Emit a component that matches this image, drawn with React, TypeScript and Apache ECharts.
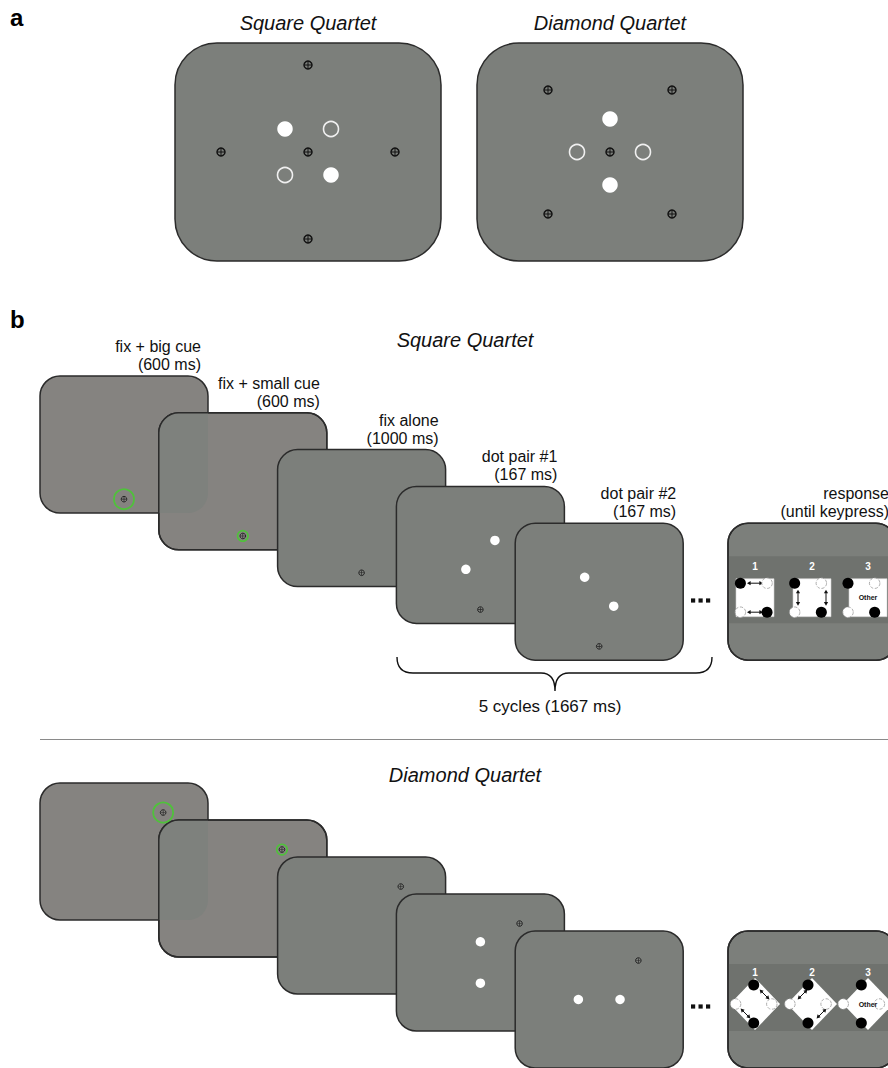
import React, { useEffect, useRef } from "react";
import * as echarts from "echarts";

const FONT = '"Liberation Sans", Arial, Helvetica, sans-serif';

// ---------------- data ----------------
const panelLetters = ["a", "b"];
const quartetTitles = ["Square Quartet", "Diamond Quartet"];
const stageLabels = ["fix + big cue", "fix + small cue", "fix alone", "dot pair #1", "dot pair #2", "response"];
const stageDurations = ["(600 ms)", "(600 ms)", "(1000 ms)", "(167 ms)", "(167 ms)", "(until keypress)"];
const cycleLabel = "5 cycles (1667 ms)";
const responseNumbers = ["1", "2", "3"];
const otherLabel = "Other";

// stimulus coordinates (display units, centre = 0, y up)
const squareFilled = [[-2.3, 2.3], [2.3, -2.3]];
const squareHollow = [[2.3, 2.3], [-2.3, -2.3]];
const squareFixations = [[0, 8.7], [-8.7, 0], [0, 0], [8.7, 0], [0, -8.7]];
const diamondFilled = [[0, 3.3], [0, -3.3]];
const diamondHollow = [[-3.3, 0], [3.3, 0]];
const diamondFixations = [[-6.2, 6.2], [6.2, 6.2], [0, 0], [-6.2, -6.2], [6.2, -6.2]];

const squareTrialFix = [[0, -8.7]];
const diamondTrialFix = [[6.2, 6.2]];
const squarePair1 = [[2.3, 2.3], [-2.3, -2.3]];
const squarePair2 = [[-2.3, 2.3], [2.3, -2.3]];
const diamondPair1 = [[0, 3.3], [0, -3.3]];
const diamondPair2 = [[-3.3, 0], [3.3, 0]];

// response screen icons (screen units, centre = 0, y up)
const responseOptionX = [-57, 0, 56];
const squareRespY = -6;
const diamondRespY = -4.5;
const squareRespBlack = [[-14, 14.5], [14, -14.5]];
const squareRespWhite = [[14, 14.5], [-14, -14.5]];
const diamondRespBlack = [[0, 19], [0, -19]];
const diamondRespWhite = [[-19, 0], [19, 0]];

// ---------------- layout ----------------
const STIM_HW = 13.3;
const STIM_HH = 10.9;
const A_SCREENS = [
  { x: 175, y: 43, w: 266, h: 218 },
  { x: 477, y: 43, w: 266, h: 218 },
];
const B_W = 168;
const B_H = 137;
const B_X0 = 40;
const B_DX = 118.8;
const B_ROW_Y = [376, 783];
const B_DY = [36.8, 37];
const RESP_X = 728;
const RESP_HW = 84;
const RESP_HH = 68.5;

const BRACE_D =
  "M397,657 C397,667 401,673 413,673 L541,673 C550,673 555,678 555,691 C555,678 560,673 569,673 L696,673 C708,673 712,667 712,657";
echarts.graphic.registerShape("brace", echarts.graphic.extendPath(BRACE_D, {}));

const CROSS_PATH = "path://M0,4.3H10V5.7H0Z M4.3,0H5.7V10H4.3Z";

function buildOption() {
  const els: any[] = [];
  let z = 1;
  const grids: any[] = [];
  const xAxes: any[] = [];
  const yAxes: any[] = [];
  const series: any[] = [];

  const addGrid = (r: any, hw: number, hh: number) => {
    const idx = grids.length;
    grids.push({ left: r.x, top: r.y, width: r.w, height: r.h, show: false, containLabel: false });
    xAxes.push({ type: "value", gridIndex: idx, min: -hw, max: hw, show: false });
    yAxes.push({ type: "value", gridIndex: idx, min: -hh, max: hh, show: false });
    return idx;
  };
  const scatter = (idx: number, data: number[][], symbol: string, size: number, itemStyle: any) => {
    series.push({
      type: "scatter",
      xAxisIndex: idx,
      yAxisIndex: idx,
      data,
      symbol,
      symbolSize: size,
      itemStyle: { opacity: 1, ...itemStyle },
      silent: true,
      clip: false,
      z: 100,
      emphasis: { disabled: true },
    });
  };
  const fixation = (idx: number, pts: number[][], big: boolean) => {
    scatter(idx, pts, "circle", big ? 8 : 5.6, {
      color: "rgba(0,0,0,0)",
      borderColor: big ? "#111111" : "#262626",
      borderWidth: big ? 1.5 : 1,
    });
    scatter(idx, pts, CROSS_PATH, big ? 7 : 4.8, { color: big ? "#111111" : "#262626" });
  };
  const dots = (idx: number, pts: number[][], size: number) =>
    scatter(idx, pts, "circle", size, { color: "#ffffff" });
  const rings = (idx: number, pts: number[][], size: number) =>
    scatter(idx, pts, "circle", size, { color: "rgba(0,0,0,0)", borderColor: "#f0f0f0", borderWidth: 1.6 });
  const cue = (idx: number, pts: number[][], size: number, bw: number) =>
    scatter(idx, pts, "circle", size, { color: "rgba(0,0,0,0)", borderColor: "#4fc23a", borderWidth: bw });

  const screenRect = (r: any, fill: string, radius: number) => {
    els.push({
      type: "rect",
      silent: true,
      shape: { x: r.x, y: r.y, width: r.w, height: r.h, r: radius },
      style: { fill, stroke: "#2b2b2b", lineWidth: 1.5 },
      z: z++,
    });
  };
  const strokeRect = (r: any, radius: number) => {
    els.push({
      type: "rect",
      silent: true,
      shape: { x: r.x, y: r.y, width: r.w, height: r.h, r: radius },
      style: { fill: "none", stroke: "#2b2b2b", lineWidth: 1.5 },
      z: z++,
    });
  };
  const text = (x: number, y: number, t: string, font: string, align = "center", fill = "#111") => {
    els.push({
      type: "text",
      silent: true,
      x,
      y,
      style: { text: t, font, fill, align, verticalAlign: "middle" },
      z: 120,
    });
  };
  const arrow = (x1: number, y1: number, x2: number, y2: number) => {
    const dx = x2 - x1, dy = y2 - y1;
    const L = Math.hypot(dx, dy);
    const ux = dx / L, uy = dy / L, px = -uy, py = ux;
    const hl = 3.6, hw = 2.1;
    els.push({
      type: "line",
      silent: true,
      shape: { x1: x1 + ux * hl * 0.7, y1: y1 + uy * hl * 0.7, x2: x2 - ux * hl * 0.7, y2: y2 - uy * hl * 0.7 },
      style: { stroke: "#111", lineWidth: 1 },
      z: 60,
    });
    const head = (ax: number, ay: number, s: number) =>
      els.push({
        type: "polygon",
        silent: true,
        shape: {
          points: [
            [ax, ay],
            [ax + s * ux * hl + px * hw, ay + s * uy * hl + py * hw],
            [ax + s * ux * hl - px * hw, ay + s * uy * hl - py * hw],
          ],
        },
        style: { fill: "#111" },
        z: 60,
      });
    head(x1, y1, 1);
    head(x2, y2, -1);
  };

  // ---------- panel letters ----------
  text(10, 17.6, panelLetters[0], `bold 24px ${FONT}`, "left", "#000");
  text(10, 319.6, panelLetters[1], `bold 24px ${FONT}`, "left", "#000");

  // ---------- panel a ----------
  A_SCREENS.forEach((r, k) => {
    screenRect(r, "#7c7f7b", 42);
    const idx = addGrid(r, STIM_HW, STIM_HH);
    text(r.x + r.w / 2, 23, quartetTitles[k], `italic 20px ${FONT}`);
    if (k === 0) {
      dots(idx, squareFilled, 15.5);
      rings(idx, squareHollow, 15);
      fixation(idx, squareFixations, true);
    } else {
      dots(idx, diamondFilled, 15.5);
      rings(idx, diamondHollow, 15);
      fixation(idx, diamondFixations, true);
    }
  });

  // ---------- panel b ----------
  for (let row = 0; row < 2; row++) {
    const y0 = B_ROW_Y[row];
    const dy = B_DY[row];
    text(465, row === 0 ? 340 : 775, quartetTitles[row], `italic 20px ${FONT}`);
    const fixPt = row === 0 ? squareTrialFix : diamondTrialFix;
    const pair1 = row === 0 ? squarePair1 : diamondPair1;
    const pair2 = row === 0 ? squarePair2 : diamondPair2;
    const rects: any[] = [];
    for (let i = 0; i < 5; i++) {
      const r = { x: B_X0 + i * B_DX, y: y0 + i * dy, w: B_W, h: B_H };
      rects.push(r);
      screenRect(r, i < 2 ? "#858380" : "#7c7f7b", 20);
      if (i === 1) {
        const p = rects[0];
        els.push({
          type: "rect",
          silent: true,
          shape: { x: r.x, y: r.y, width: p.x + p.w - r.x, height: p.y + p.h - r.y, r: [20, 0, 20, 0] },
          style: { fill: "#7e817d" },
          z: z++,
        });
        strokeRect(r, 20);
      }
      const idx = addGrid(r, STIM_HW, STIM_HH);
      if (i === 0) cue(idx, fixPt, 20, 1.8);
      if (i === 1) cue(idx, fixPt, 10.5, 1.6);
      if (i === 3) dots(idx, pair1, 9.5);
      if (i === 4) dots(idx, pair2, 9.5);
      fixation(idx, fixPt, false);
      if (row === 0) {
        text(r.x + r.w - 7, r.y - 29.6, stageLabels[i], `16px ${FONT}`, "right");
        text(r.x + r.w - 7, r.y - 11.6, stageDurations[i], `16px ${FONT}`, "right");
      }
    }
    // ellipsis
    const ey = row === 0 ? 600.5 : 1006.5;
    [691, 698.5, 706].forEach((ex) =>
      els.push({ type: "rect", silent: true, shape: { x: ex, y: ey - 2.1, width: 4.2, height: 4.2 }, style: { fill: "#111" }, z: 60 })
    );

    // response screen
    const rr = { x: RESP_X, y: y0 + 4 * dy, w: B_W, h: B_H };
    screenRect(rr, "#7c7f7b", 20);
    els.push({
      type: "rect",
      silent: true,
      shape: { x: rr.x + 0.75, y: rr.y + 33, width: rr.w - 1.5, height: 67 },
      style: { fill: "#6f726e" },
      z: z++,
    });
    strokeRect(rr, 20);
    if (row === 0) {
      text(rr.x + rr.w - 7, rr.y - 29.6, stageLabels[5], `16px ${FONT}`, "right");
      text(rr.x + rr.w - 7, rr.y - 11.6, stageDurations[5], `16px ${FONT}`, "right");
    }
    const ridx = addGrid(rr, RESP_HW, RESP_HH);
    const pxX = (u: number) => rr.x + rr.w / 2 + (u * rr.w) / (2 * RESP_HW);
    const pxY = (v: number) => rr.y + rr.h / 2 - (v * rr.h) / (2 * RESP_HH);
    const blacks: number[][] = [];
    const whites: number[][] = [];
    responseOptionX.forEach((ox, k) => {
      const cyU = row === 0 ? squareRespY : diamondRespY;
      const cx = pxX(ox);
      const cy = pxY(cyU);
      const bl = row === 0 ? squareRespBlack : diamondRespBlack;
      const wh = row === 0 ? squareRespWhite : diamondRespWhite;
      bl.forEach((p) => blacks.push([ox + p[0], cyU + p[1]]));
      wh.forEach((p) => whites.push([ox + p[0], cyU + p[1]]));
      if (row === 0) {
        els.push({
          type: "rect",
          silent: true,
          shape: { x: cx - 19, y: cy - 19, width: 38, height: 38 },
          style: { fill: "#ffffff", stroke: "#d0d0d0", lineWidth: 0.6 },
          z: 50,
        });
        text(cx, cy - 31, responseNumbers[k], `bold 10px ${FONT}`, "center", "#ffffff");
        if (k === 0) {
          arrow(cx - 8, cy - 14.5, cx + 8, cy - 14.5);
          arrow(cx - 8, cy + 14.5, cx + 8, cy + 14.5);
        } else if (k === 1) {
          arrow(cx - 14, cy - 8, cx - 14, cy + 8);
          arrow(cx + 14, cy - 8, cx + 14, cy + 8);
        } else {
          text(cx, cy, otherLabel, `bold 7px ${FONT}`, "center", "#111");
        }
      } else {
        els.push({
          type: "polygon",
          silent: true,
          shape: { points: [[cx, cy - 26], [cx + 25, cy], [cx, cy + 26], [cx - 25, cy]] },
          style: { fill: "#ffffff" },
          z: 50,
        });
        text(cx, cy - 31.5, responseNumbers[k], `bold 10px ${FONT}`, "center", "#ffffff");
        if (k === 0) {
          arrow(cx + 4.6, cy - 14.4, cx + 14.4, cy - 4.6);
          arrow(cx - 14.4, cy + 4.6, cx - 4.6, cy + 14.4);
        } else if (k === 1) {
          arrow(cx - 4.6, cy - 14.4, cx - 14.4, cy - 4.6);
          arrow(cx + 14.4, cy + 4.6, cx + 4.6, cy + 14.4);
        } else {
          text(cx, cy, otherLabel, `bold 7px ${FONT}`, "center", "#111");
        }
      }
    });
    scatter(ridx, blacks, "circle", 11, { color: "#000000" });
    scatter(ridx, whites, "circle", 10.5, {
      color: "#ffffff",
      borderColor: "#9a9a9a",
      borderWidth: 0.8,
      borderType: "dashed",
    });

    if (row === 0) {
      els.push({
        type: "brace",
        silent: true,
        x: 0,
        y: 0,
        style: { fill: "none", stroke: "#111", lineWidth: 1.4 },
        z: 60,
      });
      text(550, 706, cycleLabel, `17px ${FONT}`);
      els.push({
        type: "line",
        silent: true,
        shape: { x1: 40, y1: 739.5, x2: 888, y2: 739.5 },
        style: { stroke: "#8a8a8a", lineWidth: 1 },
        z: 10,
      });
    }
  }

  return {
    animation: false,
    backgroundColor: "#ffffff",
    grid: grids,
    xAxis: xAxes,
    yAxis: yAxes,
    series,
    graphic: { elements: els },
  };
}

export default function App() {
  const ref = useRef<HTMLDivElement>(null);
  useEffect(() => {
    document.body.style.margin = "0";
    if (!ref.current) return;
    const chart = echarts.init(ref.current, undefined, { renderer: "svg" });
    chart.setOption(buildOption() as any);
    return () => chart.dispose();
  }, []);
  return <div ref={ref} style={{ width: 888, height: 1068 }} />;
}
